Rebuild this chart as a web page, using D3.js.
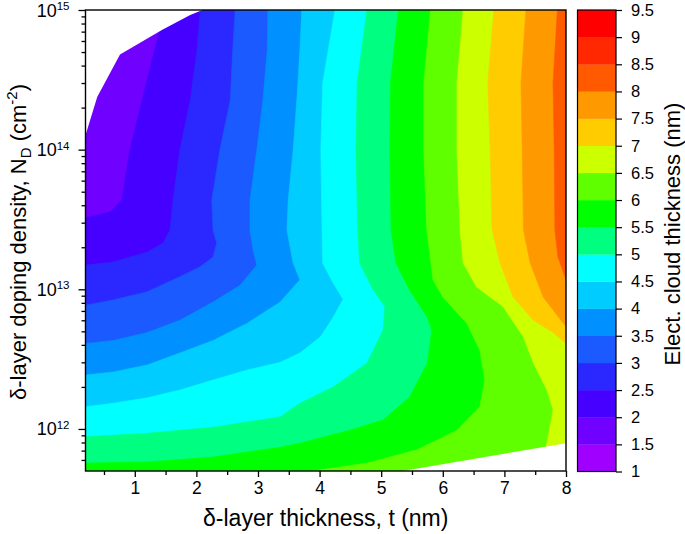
<!DOCTYPE html>
<html><head><meta charset="utf-8">
<script src="https://cdn.jsdelivr.net/npm/d3@7"></script>
<style>
body{margin:0;background:#fff}
svg{font-family:"Liberation Sans",Arial,sans-serif}
</style>
</head><body>
<svg id="chart" width="685" height="534"></svg>
<script>
// ---------- data ----------
const xTicks = [1, 2, 3, 4, 5, 6, 7, 8];
const xMinorTicks = [0.5, 1.5, 2.5, 3.5, 4.5, 5.5, 6.5, 7.5];
const yTicks = [1e12, 1e13, 1e14, 1e15];
const cbEdges = [1, 1.5, 2, 2.5, 3, 3.5, 4, 4.5, 5, 5.5, 6, 6.5, 7, 7.5, 8, 8.5, 9, 9.5];
const cbColors = ["#9f00ff", "#7000ff", "#4600ff", "#2a28ff", "#1a5aff", "#0090ff", "#00ccff", "#00ffff",
                  "#00ff80", "#00ff00", "#60ff00", "#ccff00", "#ffcc00", "#ff9900", "#ff5a00", "#ff2800", "#ff0000"];

// isolines: [t (nm), N_D (cm^-2)]
const iso2_0 = [[0.2,3.24e13],[0.6,3.58e13],[0.79,4.36e13],[0.92,9.9e13],[1.12,2.27e14],[1.25,3.9e14],[1.41,7.2e14],[1.52,1e15]];
const iso2_5 = [[0.2,1.49e13],[0.65,1.57e13],[1.2,1.85e13],[1.46,2.15e13],[1.57,2.66e13],[1.62,4.36e13],[1.73,9.9e13],[1.9,2.27e14],[2.01,5.2e14],[2.06,1e15]];
const iso3_0 = [[0.2,7.7e12],[0.65,8.4e12],[1.2,9.6e12],[1.73,1.23e13],[2.06,1.45e13],[2.27,1.7e13],[2.33,2.15e13],[2.27,2.66e13],[2.25,4.36e13],[2.38,9.9e13],[2.55,2.27e14],[2.59,5.2e14],[2.63,1e15]];
const iso3_5 = [[0.2,4.1e12],[0.65,4.3e12],[1.2,4.9e12],[1.73,6.0e12],[2.27,8.1e12],[2.71,1.07e13],[2.98,1.49e13],[2.92,1.91e13],[2.87,2.66e13],[2.87,4.36e13],[2.98,9.9e13],[3.08,2.27e14],[3.15,5.2e14],[3.16,1e15]];
const iso4_0 = [[0.2,2.43e12],[0.65,2.56e12],[1.2,2.87e12],[1.73,3.5e12],[2.27,4.3e12],[2.82,5.7e12],[3.36,8.1e12],[3.68,1.17e13],[3.57,1.54e13],[3.47,2.66e13],[3.49,4.36e13],[3.57,9.9e13],[3.63,2.27e14],[3.68,5.2e14],[3.71,1e15]];
const iso4_5 = [[0.2,1.44e12],[0.65,1.53e12],[1.2,1.67e12],[1.73,1.9e12],[2.27,2.24e12],[2.82,2.64e12],[3.36,3.0e12],[3.68,3.5e12],[4.01,4.55e12],[4.22,6.3e12],[4.38,8.5e12],[4.22,1.11e13],[4.05,1.54e13],[4.04,2.66e13],[4.02,9.9e13],[4.05,3.0e14],[4.25,1e15]];
const iso5_0 = [[0.2,8.8e11],[1.2,9.3e11],[2.27,1.03e12],[3.36,1.22e12],[3.68,1.53e12],[4.22,2.0e12],[4.77,2.97e12],[5.03,5.1e12],[5.06,7.5e12],[4.87,9.9e12],[4.65,1.54e13],[4.62,2.66e13],[4.59,9.9e13],[4.61,3.0e14],[4.77,1e15]];
const iso5_5 = [[0.2,5.7e11],[1.2,5.8e11],[2.27,6.3e11],[3.36,7.4e11],[3.68,7.9e11],[4.49,9.8e11],[5.03,1.16e12],[5.46,1.69e12],[5.75,2.97e12],[5.82,5.1e12],[5.75,6.3e12],[5.46,9.9e12],[5.24,1.54e13],[5.16,2.66e13],[5.14,9.9e13],[5.15,3.0e14],[5.28,1e15]];
const iso6_0 = [[3.88,5e11],[4.77,5.7e11],[5.58,7.1e11],[6.23,9.8e11],[6.6,1.44e12],[6.68,2.24e12],[6.6,3.67e12],[6.39,5.7e12],[6.0,8.8e12],[5.84,1.17e13],[5.74,2.66e13],[5.69,9.9e13],[5.69,3.0e14],[5.8,1e15]];
const iso6_5 = [[7.6,5e11],[7.69,7.9e11],[7.79,1.37e12],[7.69,1.9e12],[7.47,2.97e12],[7.31,4.55e12],[6.98,7.5e12],[6.55,1.04e13],[6.33,1.54e13],[6.28,2.66e13],[6.23,9.9e13],[6.23,3.0e14],[6.33,1e15]];
const iso7_0 = [[8,4.1e12],[7.79,4.9e12],[7.47,6.0e12],[7.14,8.8e12],[6.93,1.54e13],[6.8,2.66e13],[6.77,9.9e13],[6.73,3.0e14],[6.83,1e15]];
const iso7_5 = [[8,5.4e12],[7.63,8.8e12],[7.42,1.54e13],[7.31,2.66e13],[7.29,9.9e13],[7.27,3.0e14],[7.35,1e15]];
const iso8_0 = [[8,1.17e13],[7.87,1.7e13],[7.82,2.66e13],[7.81,9.9e13],[7.79,3.0e14],[7.86,1e15]];
const isoLevels = [2.0, 2.5, 3.0, 3.5, 4.0, 4.5, 5.0, 5.5, 6.0, 6.5, 7.0, 7.5, 8.0];
const isoLines  = [iso2_0, iso2_5, iso3_0, iso3_5, iso4_0, iso4_5, iso5_0, iso5_5, iso6_0, iso6_5, iso7_0, iso7_5, iso8_0];

// regions without data
const blankTopLeft = [[0.2,1.27e14],[0.39,2.38e14],[0.76,4.8e14],[1.44,7.2e14],[1.9,9.2e14],[2.1,1e15]];
const blankBottomRight = [[5.35,5e11],[8,7.9e11]];

// ---------- layout ----------
const svg = d3.select("#chart");
const L = 85.5, R = 566, T = 10, B = 471;
const x = d3.scaleLinear().domain([0.2, 8]).range([L, R]);
const y = d3.scaleLog().domain([5e11, 1e15]).range([B, T]);
const [X0, X1] = x.domain(), [Y0, Y1] = y.domain();
const line = d3.line().x(d => x(d[0])).y(d => y(d[1]));

svg.append("defs").append("clipPath").attr("id", "clip")
  .append("rect").attr("x", L).attr("y", T).attr("width", R - L).attr("height", B - T);

const plot = svg.append("g").attr("clip-path", "url(#clip)");
const colorOf = lvl => cbColors[Math.round((lvl - cbEdges[0]) / 0.5)];

// base band (lowest present level)
plot.append("path").attr("d", line([[X0,Y0],[X0,Y1],[X1,Y1],[X1,Y0]]) + "Z").attr("fill", colorOf(1.5));

function highSide(pts) {
  const [t0, n0] = pts[0];
  const c = [[X1, Y1]];
  if (t0 === X1) {}
  else if (n0 === Y0) c.push([X1, Y0]);
  else c.push([X1, Y0], [X0, Y0]);
  return pts.concat(c);
}
isoLines.forEach((pts, i) => {
  plot.append("path").attr("d", line(highSide(pts)) + "Z")
    .attr("fill", colorOf(isoLevels[i]))
    .attr("stroke", colorOf(isoLevels[i])).attr("stroke-width", 0.6);
});
plot.append("path").attr("d", line(blankTopLeft.concat([[X0, Y1]])) + "Z").attr("fill", "#fff");
plot.append("path").attr("d", line(blankBottomRight.concat([[X1, Y0]])) + "Z").attr("fill", "#fff");

// ---------- axes ----------
const FONT = "Liberation Sans, Arial, sans-serif";
// x axis
const gx = svg.append("g").attr("transform", `translate(0,${B})`)
  .call(d3.axisBottom(x).tickValues(xTicks).tickSize(6).tickPadding(5).tickFormat(d3.format("d")));
gx.append("g").call(d3.axisBottom(x).tickValues(xMinorTicks).tickSize(4).tickFormat(""));
gx.selectAll(".domain").remove();
gx.selectAll("text").attr("font-size", 17.5).attr("font-family", FONT).attr("fill", "#000");
gx.selectAll("line").attr("stroke", "#000").attr("stroke-width", 1.3);

// y axis
const yMinor = [];
for (let k = 11; k <= 14; k++) for (let m = 2; m <= 9; m++) {
  const v = m * Math.pow(10, k);
  if (v > Y0 && v < Y1) yMinor.push(v);
}
const gy = svg.append("g").attr("transform", `translate(${L},0)`)
  .call(d3.axisLeft(y).tickValues(yTicks).tickSize(7).tickFormat(""));
gy.append("g").call(d3.axisLeft(y).tickValues(yMinor).tickSize(4).tickFormat(""));
gy.selectAll(".domain").remove();
gy.selectAll("line").attr("stroke", "#000").attr("stroke-width", 1.3);
yTicks.forEach(v => {
  const t = svg.append("text").attr("x", L - 16).attr("y", y(v) + 6.5)
    .attr("text-anchor", "end").attr("font-size", 18);
  t.append("tspan").text("10");
  t.append("tspan").attr("font-size", 11.5).attr("dy", -6.5).text(Math.round(Math.log10(v)));
});

// frame
svg.append("rect").attr("x", L).attr("y", T).attr("width", R - L).attr("height", B - T)
  .attr("fill", "none").attr("stroke", "#000").attr("stroke-width", 1.4);

// titles
svg.append("text").attr("x", (L + R) / 2).attr("y", 526).attr("text-anchor", "middle")
  .attr("font-size", 23).text("δ-layer thickness, t (nm)");
const yt = svg.append("text").attr("transform", "translate(26,242) rotate(-90)")
  .attr("text-anchor", "middle").attr("font-size", 22);
yt.append("tspan").text("δ-layer doping density, N");
yt.append("tspan").attr("font-size", 15).attr("dy", 5).text("D");
yt.append("tspan").attr("dy", -5).text(" (cm");
yt.append("tspan").attr("font-size", 15).attr("dy", -9).text("-2");
yt.append("tspan").attr("dy", 9).text(")");

// ---------- colorbar ----------
const cbL = 577.5, cbR = 616;
const cy = d3.scaleLinear().domain([cbEdges[0], cbEdges[cbEdges.length - 1]]).range([471.5, 10]);
const cb = svg.append("g");
cbColors.forEach((c, i) => {
  cb.append("rect").attr("x", cbL).attr("width", cbR - cbL)
    .attr("y", cy(cbEdges[i + 1])).attr("height", cy(cbEdges[i]) - cy(cbEdges[i + 1]) + 0.3)
    .attr("fill", c);
});
cb.append("rect").attr("x", cbL).attr("y", cy.range()[1]).attr("width", cbR - cbL)
  .attr("height", cy.range()[0] - cy.range()[1]).attr("fill", "none").attr("stroke", "#000").attr("stroke-width", 1.2);
const gc = svg.append("g").attr("transform", `translate(${cbR},0)`)
  .call(d3.axisRight(cy).tickValues(cbEdges).tickSize(6).tickPadding(9).tickFormat(d => String(d)));
gc.selectAll(".domain").remove();
gc.selectAll("line").attr("stroke", "#000").attr("stroke-width", 1.2);
gc.selectAll("text").attr("font-size", 16.5).attr("font-family", FONT).attr("fill", "#000");

svg.append("text").attr("transform", "translate(680,234) rotate(-90)")
  .attr("text-anchor", "middle").attr("font-size", 22).text("Elect. cloud thickness (nm)");
</script>
</body></html>
